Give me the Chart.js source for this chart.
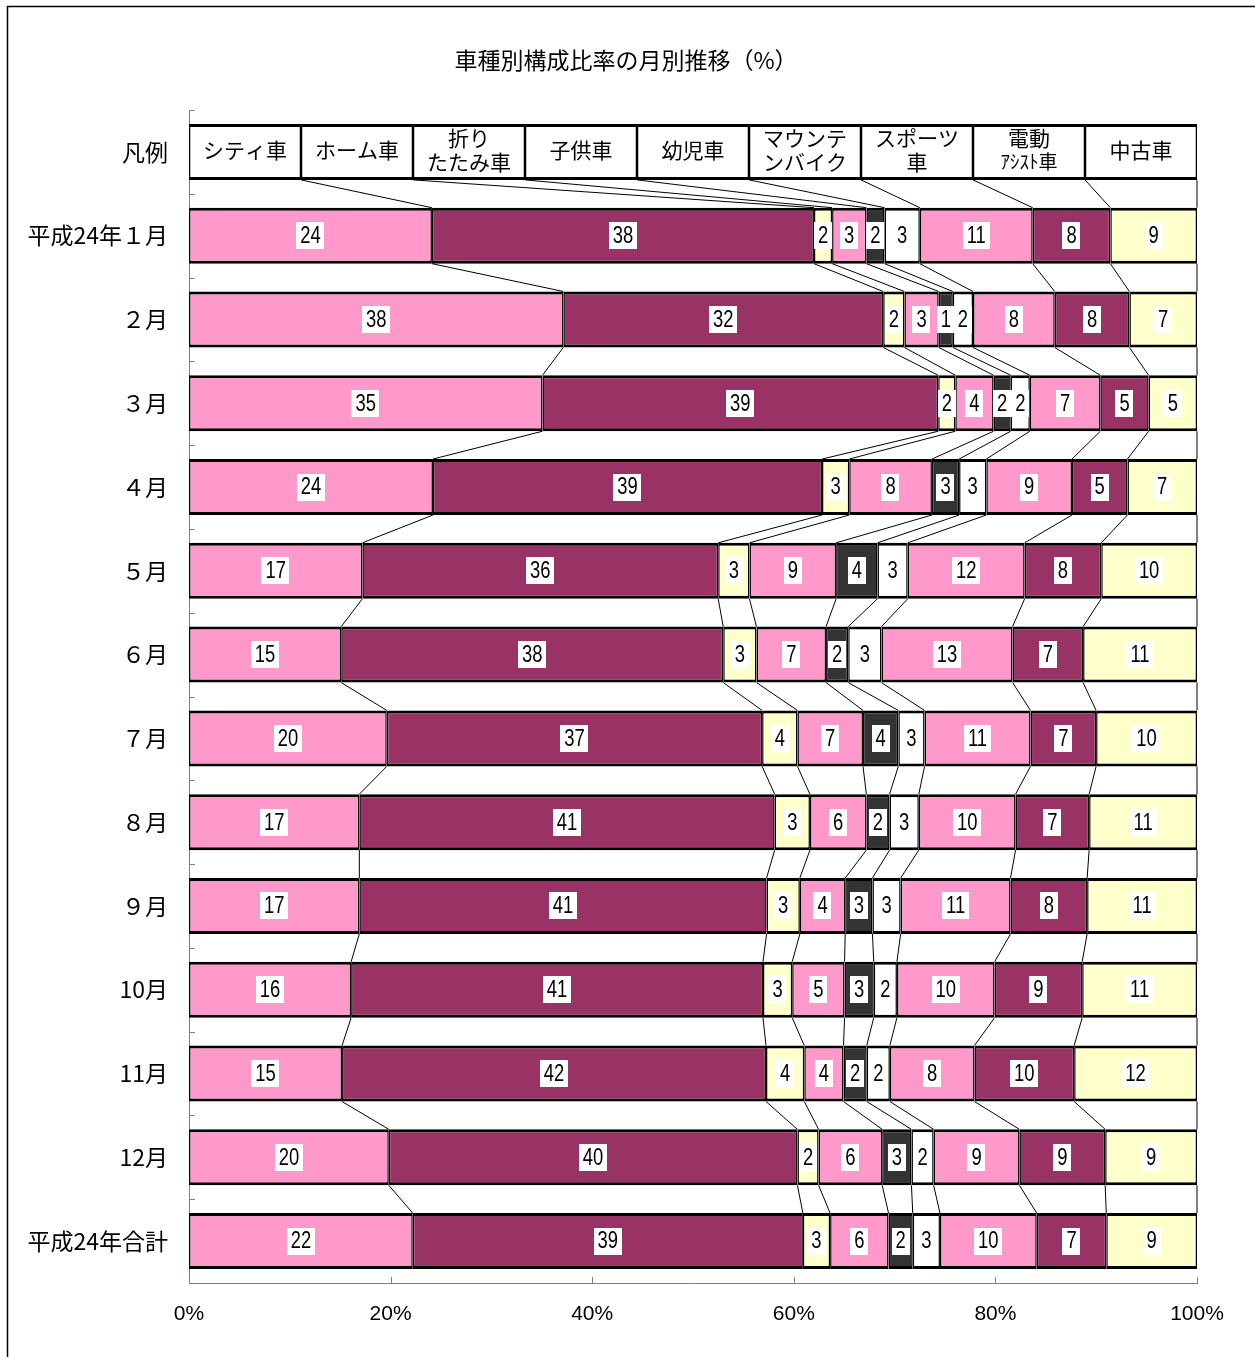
<!DOCTYPE html>
<html lang="ja">
<head>
<meta charset="utf-8">
<title>車種別構成比率の月別推移</title>
<script src="https://cdn.jsdelivr.net/npm/chart.js@4/dist/chart.umd.min.js"></script>
<style>
html, body { margin: 0; padding: 0; background: #fff; }
#wrap { width: 1255px; height: 1357px; position: relative; }
</style>
</head>
<body>
<div id="wrap"><canvas id="chart" width="1255" height="1357"></canvas></div>
<script>
// rows: legend row first, then months, then the yearly total
const rows = ['凡例', '平成24年１月', '２月', '３月', '４月', '５月', '６月', '７月', '８月', '９月', '10月', '11月', '12月', '平成24年合計'];

// series names as written in the legend row
const seriesNames = ['シティ車', 'ホーム車', '折り\nたたみ車', '子供車', '幼児車', 'マウンテ\nンバイク', 'スポーツ\n車', '電動\nｱｼｽﾄ車', '中古車'];
const seriesColors = ['#FF99CC', '#993366', '#FFFFCC', '#FF99CC', '#333333', '#FFFFFF', '#FF99CC', '#993366', '#FFFFCC'];

// share of each type per month (%)
const city   = [24.1, 37.1, 35.1, 24.2, 17.2, 15.1, 19.6, 16.9, 16.9, 16.1, 15.2, 19.8, 22.2];
const home   = [37.9, 31.7, 39.3, 38.6, 35.3, 37.9, 37.2, 41.2, 40.4, 40.9, 42.1, 40.5, 38.7];
const fold   = [1.8, 2.1, 1.7, 2.7, 3.1, 3.3, 3.5, 3.5, 3.3, 2.9, 3.8, 2.1, 2.7];
const kids   = [3.4, 3.4, 3.8, 8.2, 8.6, 6.9, 6.5, 5.6, 4.5, 5.2, 3.9, 6.3, 5.8];
const infant = [1.8, 1.4, 1.7, 2.7, 4.1, 2.2, 3.5, 2.3, 2.7, 2.9, 2.3, 2.9, 2.4];
const mtb    = [3.5, 2.0, 1.9, 2.7, 3.0, 3.3, 2.6, 2.9, 2.8, 2.3, 2.3, 2.2, 2.7];
const sport  = [11.2, 8.1, 7.0, 8.5, 11.6, 13.0, 10.5, 9.6, 10.9, 9.7, 8.4, 8.5, 9.6];
const elec   = [7.7, 7.4, 4.8, 5.5, 7.6, 7.0, 6.5, 7.3, 7.6, 8.7, 9.9, 8.5, 6.9];
const used   = [8.6, 6.7, 4.8, 6.9, 9.5, 11.3, 10.0, 10.7, 10.9, 11.4, 12.2, 9.1, 9.0];

// the numbers printed on the bars
const cityLbl   = [24, 38, 35, 24, 17, 15, 20, 17, 17, 16, 15, 20, 22];
const homeLbl   = [38, 32, 39, 39, 36, 38, 37, 41, 41, 41, 42, 40, 39];
const foldLbl   = [2, 2, 2, 3, 3, 3, 4, 3, 3, 3, 4, 2, 3];
const kidsLbl   = [3, 3, 4, 8, 9, 7, 7, 6, 4, 5, 4, 6, 6];
const infantLbl = [2, 1, 2, 3, 4, 2, 4, 2, 3, 3, 2, 3, 2];
const mtbLbl    = [3, 2, 2, 3, 3, 3, 3, 3, 3, 2, 2, 2, 3];
const sportLbl  = [11, 8, 7, 9, 12, 13, 11, 10, 11, 10, 8, 9, 10];
const elecLbl   = [8, 8, 5, 5, 8, 7, 7, 7, 8, 9, 10, 9, 7];
const usedLbl   = [9, 7, 5, 7, 10, 11, 10, 11, 11, 11, 12, 9, 9];

const xTicks = [0, 20, 40, 60, 80, 100];
const chartTitle = '車種別構成比率の月別推移（%）';

const series = [city, home, fold, kids, infant, mtb, sport, elec, used];
const seriesLbl = [cityLbl, homeLbl, foldLbl, kidsLbl, infantLbl, mtbLbl, sportLbl, elecLbl, usedLbl];

// each month row normalised to 100%
const rowSums = city.map((_, i) => series.reduce((s, arr) => s + arr[i], 0));

const numFont = '"Liberation Sans", "DejaVu Sans", sans-serif';
const jpFont = '"Noto Sans CJK JP", "Noto Sans", sans-serif';

const datasets = series.map((arr, d) => ({
    label: seriesNames[d].replace('\n', ''),
    data: [100 / seriesNames.length].concat(arr.map((v, i) => v / rowSums[i] * 100)),
    backgroundColor: ctx => ctx.dataIndex === 0 ? '#FFFFFF' : seriesColors[d],
    borderColor: '#000000',
    borderWidth: { top: 3, bottom: 3, left: 1.5, right: 1.5 },
    borderSkipped: false,
    inflateAmount: 0,
    barPercentage: 1.0,
    categoryPercentage: 0.668
}));

// frame, title, inward ticks, series lines and the boxed value labels
const decorPlugin = {
    id: 'decor',
    beforeDraw(chart) {
        const ctx = chart.ctx;
        ctx.save();
        ctx.strokeStyle = '#000';
        ctx.lineWidth = 1.5;
        ctx.strokeRect(7.5, 6.5, 1300, 1400);
        ctx.fillStyle = '#000';
        ctx.font = '23px ' + jpFont;
        ctx.textAlign = 'center';
        ctx.textBaseline = 'middle';
        ctx.fillText(chartTitle, 626, 60);
        ctx.restore();
    },
    afterDatasetsDraw(chart) {
        const ctx = chart.ctx;
        const area = chart.chartArea;
        const xs = chart.scales.x;
        ctx.save();

        // tick marks pointing into the plot
        ctx.strokeStyle = '#808080';
        ctx.lineWidth = 1;
        const band = (area.bottom - area.top) / rows.length;
        for (let k = 0; k < rows.length; k++) {
            const y = Math.round(area.top + k * band) + 0.5;
            ctx.beginPath();
            ctx.moveTo(area.left, y);
            ctx.lineTo(area.left + 6, y);
            ctx.stroke();
        }
        xTicks.slice(1).forEach(v => {
            const x = Math.round(xs.getPixelForValue(v)) + 0.5;
            ctx.beginPath();
            ctx.moveTo(x, area.bottom);
            ctx.lineTo(x, area.bottom - 6);
            ctx.stroke();
        });

        // series lines between neighbouring bars
        ctx.strokeStyle = '#000';
        ctx.lineWidth = 1;
        chart.data.datasets.forEach((ds, d) => {
            const bars = chart.getDatasetMeta(d).data;
            for (let i = 0; i < bars.length - 1; i++) {
                const a = bars[i].getProps(['x', 'y', 'height'], true);
                const b = bars[i + 1].getProps(['x', 'y', 'height'], true);
                ctx.beginPath();
                ctx.moveTo(a.x, a.y + a.height / 2);
                ctx.lineTo(b.x, b.y - b.height / 2);
                ctx.stroke();
            }
        });

        // labels
        ctx.textAlign = 'center';
        ctx.textBaseline = 'middle';
        chart.data.datasets.forEach((ds, d) => {
            const bars = chart.getDatasetMeta(d).data;
            bars.forEach((bar, i) => {
                const p = bar.getProps(['x', 'y', 'base'], true);
                const cx = (p.x + p.base) / 2;
                ctx.fillStyle = '#000';
                if (i === 0) {
                    const lines = seriesNames[d].split('\n');
                    const lh = 24;
                    lines.forEach((t, j) => {
                        ctx.font = (/[ｱ-ﾝ]/.test(t) ? '19px ' : '21px ') + jpFont;
                        ctx.fillText(t, cx, p.y - 2 + (j - (lines.length - 1) / 2) * lh);
                    });
                    return;
                }
                const txt = String(seriesLbl[d][i - 1]);
                const sx = 0.8;
                ctx.font = '23px ' + numFont;
                const w = ctx.measureText(txt).width * sx + 8;
                ctx.fillStyle = '#FFFFFF';
                ctx.fillRect(Math.round(cx - w / 2), Math.round(p.y - 13.5), Math.round(w), 27);
                ctx.fillStyle = '#000';
                ctx.save();
                ctx.translate(cx, p.y + 1);
                ctx.scale(sx, 1);
                ctx.fillText(txt, 0, 0);
                ctx.restore();
            });
        });
        ctx.restore();
    }
};

new Chart(document.getElementById('chart').getContext('2d'), {
    type: 'bar',
    data: { labels: rows, datasets: datasets },
    options: {
        indexAxis: 'y',
        responsive: false,
        animation: false,
        devicePixelRatio: 1,
        layout: { padding: { left: 0, right: 58, top: 110, bottom: 0 } },
        plugins: {
            legend: { display: false },
            tooltip: { enabled: false },
            title: { display: false }
        },
        scales: {
            x: {
                type: 'linear',
                stacked: true,
                min: 0,
                max: 100,
                grid: { display: false, drawTicks: false },
                border: { display: true, color: '#808080', width: 1 },
                ticks: {
                    stepSize: 20,
                    padding: 19,
                    color: '#000',
                    font: { family: numFont, size: 21 },
                    callback: v => v + '%'
                },
                afterFit(s) { s.height = 74; }
            },
            y: {
                type: 'category',
                stacked: true,
                grid: { display: false, drawTicks: false },
                border: { display: true, color: '#808080', width: 1 },
                ticks: {
                    padding: 21,
                    color: '#000',
                    font: { family: jpFont, size: 23 }
                },
                afterFit(s) { s.width = 189; }
            }
        }
    },
    plugins: [decorPlugin]
});
</script>
</body>
</html>
